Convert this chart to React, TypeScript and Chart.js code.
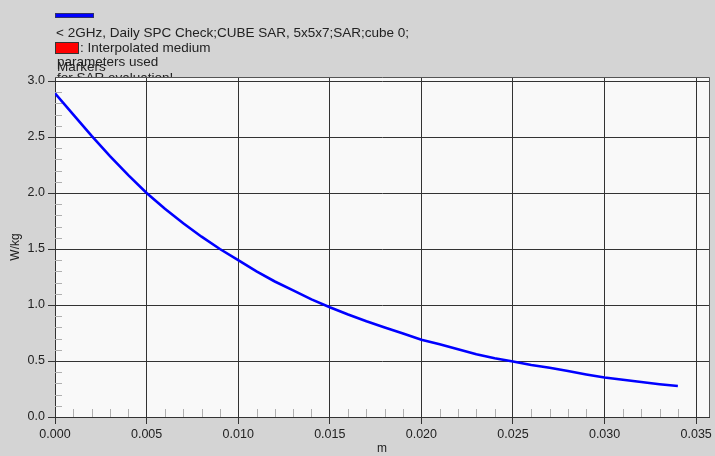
import { useEffect, useRef } from "react";
import { Chart, registerables } from "chart.js";

Chart.register(...registerables);

// Distance from the phantom surface (m)
const distance = [
  0.0, 0.001, 0.002, 0.003, 0.004, 0.005, 0.006, 0.007, 0.008, 0.009,
  0.01, 0.011, 0.012, 0.013, 0.014, 0.015, 0.016, 0.017, 0.018, 0.019,
  0.02, 0.021, 0.022, 0.023, 0.024, 0.025, 0.026, 0.027, 0.028, 0.029,
  0.03, 0.031, 0.032, 0.033, 0.034,
];

// SAR along the probe path (W/kg)
const sar = [
  2.89, 2.7, 2.51, 2.33, 2.16, 2.0, 1.86, 1.73, 1.61, 1.5,
  1.4, 1.3, 1.21, 1.13, 1.05, 0.98, 0.915, 0.855, 0.8, 0.745,
  0.69, 0.65, 0.605, 0.56, 0.525, 0.495, 0.465, 0.44, 0.41, 0.38,
  0.353, 0.332, 0.312, 0.293, 0.277,
];

const xTickValues = [0, 0.005, 0.01, 0.015, 0.02, 0.025, 0.03, 0.035];
const yTickValues = [0, 0.5, 1.0, 1.5, 2.0, 2.5, 3.0];

const seriesLabel = "< 2GHz, Daily SPC Check;CUBE SAR, 5x5x7;SAR;cube 0;";
const interpolatedNote = ": Interpolated medium";
const noteLine2 = "parameters used";
const noteLine3 = "for SAR evaluation!";
const markersLabel = "Markers";
const xTitle = "m";
const yTitle = "W/kg";

const FONT = "'Liberation Sans', Arial, sans-serif";
const PAGE_BG = "#d4d4d4";
const PLOT_BG = "#f9f9f9";
const GRID = "#333333";
const MINOR = "#b0b0b0";
const LINE = "#0000ff";

const framePlugin = {
  id: "sarFrame",
  beforeDraw(chart: any) {
    const { ctx, width, height, chartArea } = chart;
    ctx.save();
    ctx.fillStyle = PAGE_BG;
    ctx.fillRect(0, 0, width, height);

    // legend block
    ctx.fillStyle = LINE;
    ctx.fillRect(55, 13, 39, 5);
    ctx.strokeStyle = "#30306a";
    ctx.lineWidth = 1;
    ctx.strokeRect(55.5, 13.5, 38, 4);

    ctx.font = `13.5px ${FONT}`;
    ctx.textBaseline = "middle";
    ctx.textAlign = "left";
    ctx.fillStyle = "#222";
    ctx.fillText(seriesLabel, 56, 33);

    ctx.fillStyle = "#ff0000";
    ctx.fillRect(55, 42, 24, 12);
    ctx.strokeStyle = "#333";
    ctx.strokeRect(55.5, 42.5, 23, 11);

    ctx.fillStyle = "#222";
    ctx.fillText(interpolatedNote, 80, 48);
    ctx.fillText(noteLine2, 57, 62);
    ctx.fillText(markersLabel, 57, 67);
    ctx.fillText(noteLine3, 57, 78);

    ctx.fillStyle = PLOT_BG;
    ctx.fillRect(
      chartArea.left,
      chartArea.top,
      chartArea.right - chartArea.left,
      chartArea.bottom - chartArea.top
    );
    ctx.restore();
  },
  beforeDatasetsDraw(chart: any) {
    const { ctx, chartArea } = chart;
    const xs = chart.scales.x;
    const ys = chart.scales.y;
    ctx.save();
    ctx.strokeStyle = MINOR;
    ctx.lineWidth = 1;
    ctx.beginPath();
    for (let i = 1; i <= 35; i++) {
      if (i % 5 === 0) continue;
      const px = Math.round(xs.getPixelForValue(i / 1000)) + 0.5;
      ctx.moveTo(px, chartArea.bottom);
      ctx.lineTo(px, chartArea.bottom - 8);
    }
    for (let i = 1; i <= 30; i++) {
      if (i % 5 === 0) continue;
      const py = Math.round(ys.getPixelForValue(i / 10)) + 0.5;
      ctx.moveTo(chartArea.left, py);
      ctx.lineTo(chartArea.left + 7, py);
    }
    ctx.stroke();

    // top and right frame edges
    ctx.strokeStyle = "#555";
    ctx.beginPath();
    ctx.moveTo(chartArea.left, chartArea.top + 0.5);
    ctx.lineTo(chartArea.right + 0.5, chartArea.top + 0.5);
    ctx.lineTo(chartArea.right + 0.5, chartArea.bottom);
    ctx.stroke();
    ctx.restore();
  },
};

export default function App() {
  const canvasRef = useRef<HTMLCanvasElement | null>(null);

  useEffect(() => {
    const canvas = canvasRef.current;
    if (!canvas) return;
    const points = distance.map((d, i) => ({ x: d, y: sar[i] }));

    const chart = new Chart(canvas, {
      type: "line",
      data: {
        datasets: [
          {
            label: seriesLabel,
            data: points,
            borderColor: LINE,
            borderWidth: 2.6,
            pointRadius: 0,
            tension: 0,
            fill: false,
          },
        ],
      },
      options: {
        animation: false,
        responsive: false,
        devicePixelRatio: 1,
        layout: { padding: { top: 77, right: 6, left: 0, bottom: 0 } },
        plugins: {
          legend: { display: false },
          tooltip: { enabled: false },
        },
        scales: {
          x: {
            type: "linear",
            min: 0,
            max: 0.0357,
            afterBuildTicks: (scale: any) => {
              scale.ticks = xTickValues.map((v) => ({ value: v }));
            },
            afterFit: (scale: any) => {
              scale.height = 39;
            },
            ticks: {
              autoSkip: false,
              maxRotation: 0,
              padding: 3,
              color: "#222",
              font: { family: FONT, size: 12.5 },
              callback: (v: any) => Number(v).toFixed(3),
            },
            grid: {
              color: GRID,
              lineWidth: 1,
              tickLength: 7,
              drawTicks: true,
            },
            border: { color: GRID, width: 1 },
            title: {
              display: true,
              text: xTitle,
              color: "#222",
              font: { family: FONT, size: 12 },
              padding: { top: 0, bottom: 0 },
            },
          },
          y: {
            type: "linear",
            min: 0,
            max: 3.036,
            afterBuildTicks: (scale: any) => {
              scale.ticks = yTickValues.map((v) => ({ value: v }));
            },
            afterFit: (scale: any) => {
              scale.width = 55;
            },
            ticks: {
              autoSkip: false,
              padding: 3,
              color: "#222",
              font: { family: FONT, size: 12.5 },
              callback: (v: any) => Number(v).toFixed(1),
            },
            grid: {
              color: GRID,
              lineWidth: 1,
              tickLength: 7,
              drawTicks: true,
            },
            border: { color: GRID, width: 1 },
            title: {
              display: true,
              text: yTitle,
              color: "#222",
              font: { family: FONT, size: 12 },
              padding: { top: 8, bottom: 0 },
            },
          },
        },
      },
      plugins: [framePlugin],
    });

    return () => chart.destroy();
  }, []);

  return (
    <div style={{ position: "absolute", left: 0, top: 0, width: 715, height: 456 }}>
      <canvas ref={canvasRef} width={715} height={456} style={{ width: 715, height: 456, display: "block" }} />
    </div>
  );
}
